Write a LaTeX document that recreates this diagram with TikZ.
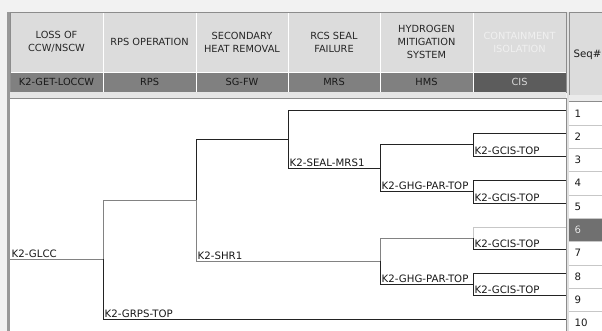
\documentclass[tikz,border=0pt]{standalone}
\usepackage{fontspec}
\setmainfont{DejaVu Sans}
\definecolor{hdrfill}{RGB}{220,220,220}
\definecolor{bandfill}{RGB}{128,128,128}
\definecolor{banddark}{RGB}{92,92,92}
\definecolor{frameline}{RGB}{140,140,140}
\definecolor{treeline}{RGB}{35,35,35}
\definecolor{pathline}{RGB}{130,130,130}
\definecolor{seqhl}{RGB}{112,112,112}
\usetikzlibrary{positioning}

\begin{document}
\begin{tikzpicture}[x=1pt, y=-1pt,
  hdr/.style={font=\fontsize{9.8}{13}\selectfont, text=black!85, align=center},
  band/.style={font=\fontsize{9.8}{11}\selectfont, text=black!90},
  lbl/.style={font=\fontsize{10.2}{12}\selectfont, anchor=south west, inner sep=1.5pt, text=black!90},
  seqno/.style={font=\fontsize{10.2}{12}\selectfont, anchor=west, text=black!90},
  br/.style={draw=treeline, line width=0.9pt},
  hl/.style={draw=pathline, line width=0.9pt}]
  % page and frame
  \useasboundingbox (0,0) rectangle (602,331);
  \fill[black!5] (0,0) rectangle (602,331);
  \fill[black!40] (7,12) rectangle (10,331);

  % Header: function titles and top event codes
  \fill[hdrfill] (10,12) rectangle (566,72);
  \fill[bandfill] (10,72) rectangle (473,92);
  \fill[banddark] (473,72) rectangle (566,92);
  \foreach \x in {103,196,288,380,473}
    \draw[white, line width=1pt] (\x,12) -- (\x,92);
  \draw[white, line width=0.8pt] (10,72) -- (566,72);
  \draw[frameline] (10,12) rectangle (566,92);
  \fill[black!10] (10,92) rectangle (566,98);

  \node[hdr] (hLOCCW) at (56.5,42) {LOSS OF\\CCW/NSCW};
  \node[hdr] (hRPS) at (149.5,42) {RPS OPERATION};
  \node[hdr] (hSHR) at (242,42) {SECONDARY\\HEAT REMOVAL};
  \node[hdr] (hMRS) at (334,42) {RCS SEAL\\FAILURE};
  \node[hdr] (hHMS) at (426.5,42) {HYDROGEN\\MITIGATION\\SYSTEM};
  \node[hdr, text=black!6] (hCIS) at (519.5,42) {CONTAINMENT\\ISOLATION};

  \node[band] (bLOCCW) at (56.5,82) {K2-GET-LOCCW};
  \node[band] (bRPS) at (149.5,82) {RPS};
  \node[band] (bSHR) at (242,82) {SG-FW};
  \node[band] (bMRS) at (334,82) {MRS};
  \node[band] (bHMS) at (426.5,82) {HMS};
  \node[band, text=black!15] (bCIS) at (519.5,82) {CIS};

  % Tree area
  \fill[white] (10,98) rectangle (566,331);
  \draw[frameline] (10,98) -- (566,98) -- (566,331);
  \fill[black!12] (566.5,12) rectangle (569,331);

  % Seq# column
  \fill[hdrfill] (569,12) rectangle (602,95);
  \draw[frameline] (569,331) -- (569,12) -- (602,12);
  \node[seqno] (seqhdr) at (570,55) {Seq\#};
  \fill[black!8] (569,95) rectangle (602,101.7);
  \fill[white] (569,101.7) rectangle (602,331);
  \fill[seqhl] (569,218.2) rectangle (602,241.5);
  \foreach \k in {1,...,9}
    \draw[black!22] (569,{101.7+23.3*\k}) -- (602,{101.7+23.3*\k});
  \draw[frameline] (569,101.7) -- (602,101.7);
  \foreach \i in {1,...,10}
    \node[seqno] (n\i) at (571,{101.7+23.3*(\i-0.5)}) {\i};
  \node[seqno, text=white] at (n6.west) {6};

  % branch points
  \coordinate (ie) at (10,259);
  \coordinate (sRPS) at (103,259);
  \coordinate (sSHR) at (196,200);
  \coordinate (sMRS) at (288,139);
  \coordinate (sHMSa) at (380,168);
  \coordinate (sHMSb) at (380,261);
  \coordinate (sCISa) at (473,144.5);
  \coordinate (sCISb) at (473,191.5);
  \coordinate (sCISc) at (473,238);
  \coordinate (sCISd) at (473,284);
  % sequence ends
  \foreach \i/\y in {1/110,2/133,3/156,4/180,5/203,6/227,7/249,8/273,9/295,10/319}
    \coordinate (e\i) at (566,\y);

  % branches (seq 6 path in grey)
  \draw[hl] (ie) -- (sRPS);
  \draw[hl] (sRPS) |- (sSHR);
  \draw[br] (sRPS) |- (e10);
  \draw[br] (sSHR) |- (sMRS);
  \draw[hl] (sSHR) |- (sHMSb);
  \draw[br] (sMRS) |- (e1);
  \draw[br] (sMRS) |- (sHMSa);
  \draw[br] (sHMSa) |- (sCISa);
  \draw[br] (sHMSa) |- (sCISb);
  \draw[hl] (sHMSb) |- (sCISc);
  \draw[br] (sHMSb) |- (sCISd);
  \draw[br] (sCISa) |- (e2);
  \draw[br] (sCISa) |- (e3);
  \draw[br] (sCISb) |- (e4);
  \draw[br] (sCISb) |- (e5);
  \draw[hl, draw=black!22] (sCISc) |- (e6);
  \draw[br] (sCISc) |- (e7);
  \draw[br] (sCISd) |- (e8);
  \draw[br] (sCISd) |- (e9);

  % branch labels
  \node[lbl] (lGLCC) at (ie) {K2-GLCC};
  \node[lbl] (lGRPS) at (sRPS |- e10) {K2-GRPS-TOP};
  \node[lbl] (lSHR) at (sSHR |- sHMSb) {K2-SHR1};
  \node[lbl] (lSEAL) at (sMRS |- sHMSa) {K2-SEAL-MRS1};
  \node[lbl] (lGHGa) at (sHMSa |- sCISb) {K2-GHG-PAR-TOP};
  \node[lbl] (lGHGb) at (sHMSb |- sCISd) {K2-GHG-PAR-TOP};
  \node[lbl] (lGCISa) at (sCISa |- e3) {K2-GCIS-TOP};
  \node[lbl] (lGCISb) at (sCISb |- e5) {K2-GCIS-TOP};
  \node[lbl] (lGCISc) at (sCISc |- e7) {K2-GCIS-TOP};
  \node[lbl] (lGCISd) at (sCISd |- e9) {K2-GCIS-TOP};
\end{tikzpicture}
\end{document}
